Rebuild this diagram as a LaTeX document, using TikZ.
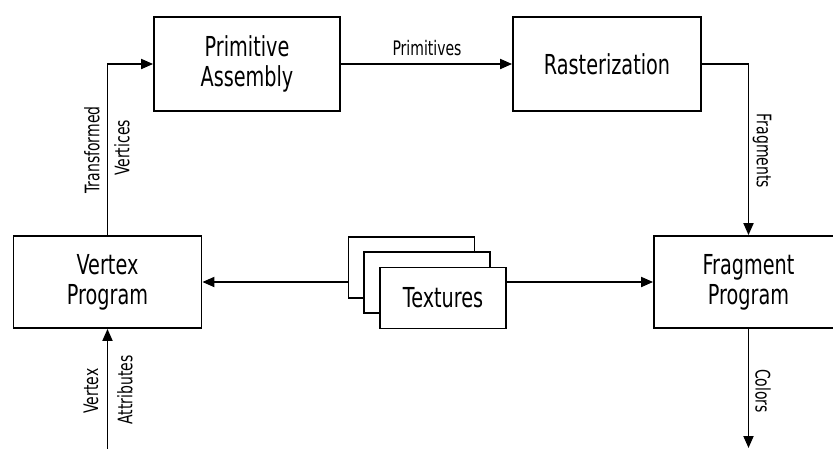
\documentclass[tikz,border=0pt]{standalone}
\usepackage{fontspec}
\setmainfont{DejaVu Sans}[FakeStretch=0.70]
\usetikzlibrary{arrows.meta}
\begin{document}
\begin{tikzpicture}[x=1pt,y=-1pt,
  blk/.style={draw, line width=1.8pt, minimum width=188pt, minimum height=92pt,
    align=center, inner sep=0pt, font=\fontsize{27.5}{30}\selectfont},
  texcard/.style={draw, fill=white, line width=1.8pt, minimum width=126pt,
    minimum height=61pt, inner sep=0pt, font=\fontsize{27.5}{30}\selectfont},
  conn/.style={line width=1.8pt, -{Triangle[length=12pt,width=10pt]}},
  lbl/.style={inner sep=0pt, font=\fontsize{20}{22}\selectfont}]
\clip (0,0) rectangle (833,448);
\fill[white] (0,0) rectangle (833,448);

\node[blk] (vp) at (107.5,282) {Vertex\\Program};
\node[blk, minimum width=186pt, minimum height=94pt] (pa) at (247,64) {Primitive\\Assembly};
\node[blk, minimum height=94pt] (ra) at (607,64) {Rasterization};
\node[blk, minimum width=189pt] (fp) at (748.5,282) {Fragment\\Program};

\node[texcard] (t1) at (411.5,267.5) {};
\node[texcard] (t2) at (427,282.5) {};
\node[texcard] (t3) at (443,298) {Textures};

\coordinate (va) at (107.5,452);
\coordinate (co) at (748.5,448);

\draw[conn] (vp.north) |- (pa.west);
\draw[conn] (pa.east) -- (ra.west);
\draw[conn] (ra.east) -| (fp.north);
\draw[conn] (vp.east -| t1.west) -- (vp.east);
\draw[conn] (fp.west -| t3.east) -- (fp.west);
\draw[conn] (va) -- (vp.south);
\draw[conn] (fp.south) -- (co);

\node[lbl] (lp) at (427,48) {Primitives};
\node[lbl, rotate=90] (lt) at (92,150) {Transformed};
\node[lbl, rotate=90] (lv) at (122,148) {Vertices};
\node[lbl, rotate=-90] (lf) at (762,151) {Fragments};
\node[lbl, rotate=90] (lvx) at (91,391) {Vertex};
\node[lbl, rotate=90] (la) at (125,390) {Attributes};
\node[lbl, rotate=-90] (lc) at (763,391) {Colors};
\end{tikzpicture}
\end{document}
